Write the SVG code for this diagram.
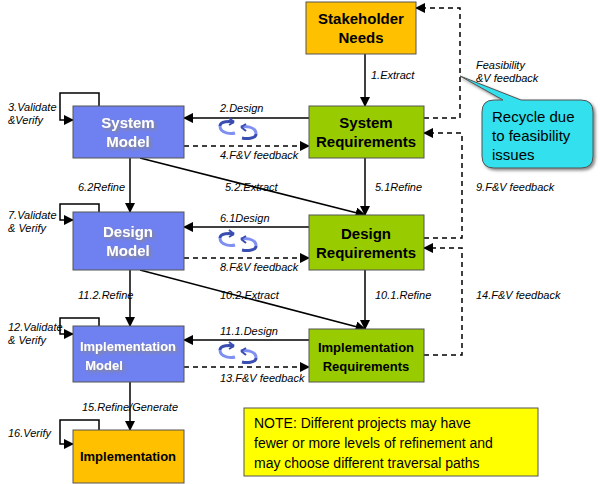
<svg xmlns="http://www.w3.org/2000/svg" width="600" height="484" viewBox="0 0 600 484">
<defs>
<marker id="ar" viewBox="0 0 10 10" refX="9" refY="5" markerWidth="7" markerHeight="7" orient="auto"><path d="M0,0L10,5L0,10z" fill="#000"/></marker>
<filter id="sh" x="-10%" y="-10%" width="130%" height="130%"><feDropShadow dx="2" dy="2" stdDeviation="1.5" flood-color="#888"/></filter>
<g id="cyc">
<path d="M-18,-4 C-18,-9 -8,-9 -4,-8" fill="none" stroke="#3a4db0" stroke-width="3"/>
<path d="M-4,-8 l-5,-4 m5,4 l-5,3" fill="none" stroke="#3a4db0" stroke-width="2"/>
<path d="M-18,-4 C-18,4 -6,4 -3,3" fill="none" stroke="#8090f0" stroke-width="3"/>
<path d="M18,4 C18,9 8,9 4,8" fill="none" stroke="#3a4db0" stroke-width="3"/>
<path d="M18,4 C18,-4 6,-4 3,-3" fill="none" stroke="#8090f0" stroke-width="3"/>
<path d="M3,-3 l5,-3 m-5,3 l5,4" fill="none" stroke="#3a4db0" stroke-width="2"/>
</g>
</defs>
<style>
.or{fill:#ffc000;stroke:#555;stroke-width:1}
.bl{fill:#6f80f0;stroke:#555;stroke-width:1}
.gr{fill:#99cc00;stroke:#555;stroke-width:1}
.t{font-family:"Liberation Sans",Arial,sans-serif;font-weight:bold;font-size:15px;text-anchor:middle}
.w{fill:#fff;filter:url(#sh)}
.l{font-family:"Liberation Sans",Arial,sans-serif;font-style:italic;font-size:11px}
.s{stroke:#000;stroke-width:1.5;fill:none}
.d{stroke:#000;stroke-width:1.5;fill:none;stroke-dasharray:5,4}
</style>
<rect width="600" height="484" fill="#fff"/>
<g id="connectors">
<path class="s" d="M365,54V106" marker-end="url(#ar)"/>
<path class="s" d="M309,118H184" marker-end="url(#ar)"/>
<path class="d" d="M184,146H309" marker-end="url(#ar)"/>
<path class="s" d="M130,158V212" marker-end="url(#ar)"/>
<path class="s" d="M140,158L365,215" marker-end="url(#ar)"/>
<path class="s" d="M365,158V215" marker-end="url(#ar)"/>
<path class="d" d="M424,118H460V8H416" marker-end="url(#ar)"/>
<path class="d" d="M424,238H462V133H424" marker-end="url(#ar)"/>
<path class="s" d="M309,227H184" marker-end="url(#ar)"/>
<path class="d" d="M184,258H309" marker-end="url(#ar)"/>
<path class="s" d="M130,270V326" marker-end="url(#ar)"/>
<path class="s" d="M140,270L365,329" marker-end="url(#ar)"/>
<path class="s" d="M365,270V329" marker-end="url(#ar)"/>
<path class="d" d="M424,355H462V248H424" marker-end="url(#ar)"/>
<path class="s" d="M309,340H184" marker-end="url(#ar)"/>
<path class="d" d="M184,367H309" marker-end="url(#ar)"/>
<path class="s" d="M130,382V430" marker-end="url(#ar)"/>
<path class="s" d="M99,106V93H60V120H73" marker-end="url(#ar)"/>
<path class="s" d="M99,212V204H60V220H73" marker-end="url(#ar)"/>
<path class="s" d="M99,326V318H60V334H73" marker-end="url(#ar)"/>
<path class="s" d="M99,430V420H60V444H73" marker-end="url(#ar)"/>
<use href="#cyc" x="238" y="130"/>
<use href="#cyc" x="238" y="242"/>
<use href="#cyc" x="238" y="354"/>
<text class="l" x="371" y="79">1.Extract</text>
<text class="l" x="220" y="112">2.Design</text>
<text class="l" x="220" y="159">4.F&amp;V feedback</text>
<text class="l" x="78" y="191">6.2Refine</text>
<text class="l" x="225" y="191">5.2.Extract</text>
<text class="l" x="375" y="191">5.1Refine</text>
<text class="l" x="476" y="69">Feasibility</text>
<text class="l" x="476" y="82">&amp;V feedback</text>
<text class="l" x="476" y="191">9.F&amp;V feedback</text>
<text class="l" x="220" y="222">6.1Design</text>
<text class="l" x="220" y="271">8.F&amp;V feedback</text>
<text class="l" x="78" y="299">11.2.Refine</text>
<text class="l" x="220" y="299">10.2.Extract</text>
<text class="l" x="375" y="299">10.1.Refine</text>
<text class="l" x="476" y="299">14.F&amp;V feedback</text>
<text class="l" x="220" y="335">11.1.Design</text>
<text class="l" x="220" y="382">13.F&amp;V feedback</text>
<text class="l" x="82" y="411">15.Refine/Generate</text>
<text class="l" x="8" y="111">3.Validate</text>
<text class="l" x="8" y="124">&amp;Verify</text>
<text class="l" x="8" y="219">7.Validate</text>
<text class="l" x="8" y="232">&amp; Verify</text>
<text class="l" x="8" y="331">12.Validate</text>
<text class="l" x="8" y="344">&amp; Verify</text>
<text class="l" x="8" y="437">16.Verify</text>
</g>
<g id="stakeholder"><rect class="or" x="306" y="2" width="110" height="52"/><text class="t" x="361" y="24">Stakeholder</text><text class="t" x="361" y="43">Needs</text></g>
<g id="sysmodel"><rect class="bl" x="73" y="106" width="111" height="52"/><text class="t w" x="128" y="128">System</text><text class="t w" x="128" y="147">Model</text></g>
<g id="sysreq"><rect class="gr" x="309" y="106" width="115" height="52"/><text class="t" x="366" y="128">System</text><text class="t" x="366" y="147">Requirements</text></g>
<g id="desmodel"><rect class="bl" x="73" y="212" width="111" height="58"/><text class="t w" x="128" y="237">Design</text><text class="t w" x="128" y="256">Model</text></g>
<g id="desreq"><rect class="gr" x="309" y="215" width="115" height="55"/><text class="t" x="366" y="239">Design</text><text class="t" x="366" y="258">Requirements</text></g>
<g id="implmodel"><rect class="bl" x="73" y="326" width="111" height="56"/><text class="t w" x="128" y="351" style="font-size:13px">Implementation</text><text class="t w" x="104" y="370" style="font-size:13px">Model</text></g>
<g id="implreq"><rect class="gr" x="309" y="329" width="115" height="53"/><text class="t" x="366" y="352" style="font-size:13px">Implementation</text><text class="t" x="366" y="371" style="font-size:13px">Requirements</text></g>
<g id="impl"><rect class="or" x="73" y="430" width="111" height="53"/><text class="t" x="128" y="461" style="font-size:13px">Implementation</text></g>
<g id="note"><rect x="244" y="408" width="294" height="68" fill="#ffff00" stroke="#555"/>
<text x="254" y="428" style="font-family:'Liberation Sans',Arial,sans-serif;font-size:14px">NOTE: Different projects may have</text>
<text x="254" y="448" style="font-family:'Liberation Sans',Arial,sans-serif;font-size:14px">fewer or more levels of refinement and</text>
<text x="254" y="468" style="font-family:'Liberation Sans',Arial,sans-serif;font-size:14px">may choose different traversal paths</text></g>
<g id="callout"><path d="M494,100H503L460,76L521,100H581Q593,100 593,112V156Q593,168 581,168H494Q482,168 482,156V112Q482,100 494,100Z" fill="#33e0ee" stroke="#555" filter="url(#sh)"/>
<text x="492" y="122" style="font-family:'Liberation Sans',Arial,sans-serif;font-size:15px">Recycle due</text>
<text x="492" y="141" style="font-family:'Liberation Sans',Arial,sans-serif;font-size:15px">to feasibility</text>
<text x="492" y="160" style="font-family:'Liberation Sans',Arial,sans-serif;font-size:15px">issues</text></g>
</svg>
